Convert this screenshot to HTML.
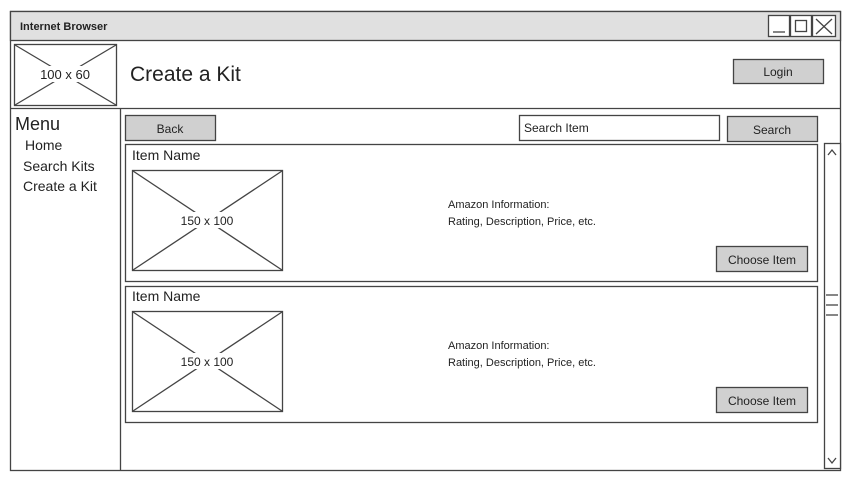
<!DOCTYPE html>
<html><head><style>
body{margin:0;width:850px;height:480px;background:#fff;overflow:hidden}
svg text{font-family:"Liberation Sans",sans-serif;fill:#222}
</style></head><body>
<svg width="850" height="480" viewBox="0 0 850 480" xmlns="http://www.w3.org/2000/svg">
<g stroke="#444" stroke-width="1.3" fill="none">
<rect x="10.5" y="11.5" width="830" height="459" fill="#fff"/>
<rect x="10.5" y="11.5" width="830" height="29" fill="#e0e0e0"/>
<rect x="768.5" y="15.5" width="21" height="21" fill="#fff"/>
<rect x="790.5" y="15.5" width="21" height="21" fill="#fff"/>
<rect x="812.5" y="15.5" width="23" height="21" fill="#fff"/>
<line x1="773" y1="32" x2="785" y2="32"/>
<rect x="795.5" y="20.5" width="11" height="11"/>
<line x1="816" y1="19" x2="832" y2="34"/><line x1="832" y1="19" x2="816" y2="34"/>
<line x1="10" y1="108.5" x2="840" y2="108.5"/>
<rect x="14.5" y="44.5" width="102" height="61"/>
<line x1="15" y1="45" x2="116" y2="105"/><line x1="116" y1="45" x2="15" y2="105"/>
<rect x="733.5" y="59.5" width="90" height="24" fill="#d0d0d0"/>
<line x1="120.5" y1="108" x2="120.5" y2="470"/>
<rect x="125.5" y="115.5" width="90" height="25" fill="#d0d0d0"/>
<rect x="519.5" y="115.5" width="200" height="25" fill="#fff"/>
<rect x="727.5" y="116.5" width="90" height="25" fill="#d0d0d0"/>
<rect x="125.5" y="144.5" width="692" height="137"/>
<rect x="132.5" y="170.5" width="150" height="100"/>
<line x1="133" y1="171" x2="282" y2="270"/><line x1="282" y1="171" x2="133" y2="270"/>
<rect x="716.5" y="246.5" width="91" height="25" fill="#d0d0d0"/>
<rect x="125.5" y="286.5" width="692" height="136"/>
<rect x="132.5" y="311.5" width="150" height="100"/>
<line x1="133" y1="312" x2="282" y2="411"/><line x1="282" y1="312" x2="133" y2="411"/>
<rect x="716.5" y="387.5" width="91" height="25" fill="#d0d0d0"/>
<rect x="824.5" y="143.5" width="16" height="325" fill="#fff"/>
<polyline points="828,155 832,150 836,155"/>
<polyline points="828,458 832,463 836,458"/>
<line x1="826" y1="295" x2="838" y2="295"/><line x1="826" y1="305" x2="838" y2="305"/><line x1="826" y1="315" x2="838" y2="315"/>
</g>
<text x="20" y="30" font-size="11" font-weight="bold">Internet Browser</text>
<rect x="40" y="66" width="50" height="16" fill="#fff"/>
<text x="65" y="79" font-size="13" text-anchor="middle">100 x 60</text>
<text x="130" y="81" font-size="21">Create a Kit</text>
<text x="778" y="76" font-size="12" text-anchor="middle">Login</text>
<text x="15" y="130" font-size="18">Menu</text>
<text x="25" y="150" font-size="14">Home</text>
<text x="23" y="171" font-size="14">Search Kits</text>
<text x="23" y="191" font-size="14">Create a Kit</text>
<text x="170" y="133" font-size="12" text-anchor="middle">Back</text>
<text x="524" y="132" font-size="12">Search Item</text>
<text x="772" y="134" font-size="12" text-anchor="middle">Search</text>
<text x="132" y="160" font-size="14">Item Name</text>
<rect x="180" y="212" width="55" height="16" fill="#fff"/>
<text x="207" y="225" font-size="12" text-anchor="middle">150 x 100</text>
<text x="448" y="208" font-size="11">Amazon Information:</text>
<text x="448" y="225" font-size="11">Rating, Description, Price, etc.</text>
<text x="762" y="264" font-size="12" text-anchor="middle">Choose Item</text>
<text x="132" y="301" font-size="14">Item Name</text>
<rect x="180" y="353" width="55" height="16" fill="#fff"/>
<text x="207" y="366" font-size="12" text-anchor="middle">150 x 100</text>
<text x="448" y="349" font-size="11">Amazon Information:</text>
<text x="448" y="366" font-size="11">Rating, Description, Price, etc.</text>
<text x="762" y="405" font-size="12" text-anchor="middle">Choose Item</text>
</svg>
</body></html>
